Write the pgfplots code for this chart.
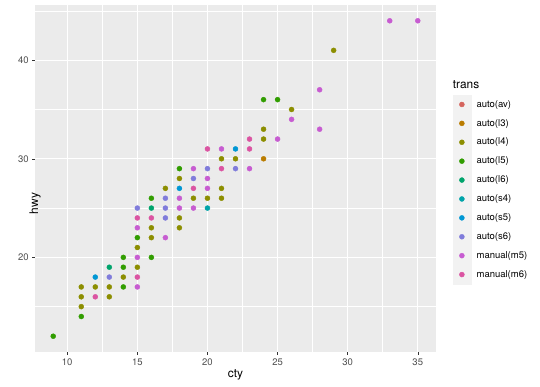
\documentclass[border=0pt]{standalone}
\usepackage{fontspec}
\setmainfont{TeX Gyre Heros}
\usepackage{pgfplots}
\pgfplotsset{compat=1.18}
\definecolor{panelbg}{HTML}{EBEBEB}
\definecolor{legbg}{HTML}{F2F2F2}
\definecolor{ticktxt}{HTML}{4D4D4D}
\definecolor{tickln}{HTML}{333333}
\definecolor{cavx}{HTML}{F8766D}
\definecolor{clax}{HTML}{D89000}
\definecolor{clbx}{HTML}{A3A500}
\definecolor{clcx}{HTML}{39B600}
\definecolor{cldx}{HTML}{00BF7D}
\definecolor{csax}{HTML}{00BFC4}
\definecolor{csbx}{HTML}{00B0F6}
\definecolor{cscx}{HTML}{9590FF}
\definecolor{cmax}{HTML}{E76BF3}
\definecolor{cmbx}{HTML}{FF62BC}
\colorlet{cav}{cavx!86!black}
\colorlet{cla}{clax!86!black}
\colorlet{clb}{clbx!86!black}
\colorlet{clc}{clcx!86!black}
\colorlet{cld}{cldx!86!black}
\colorlet{csa}{csax!86!black}
\colorlet{csb}{csbx!86!black}
\colorlet{csc}{cscx!86!black}
\colorlet{cma}{cmax!86!black}
\colorlet{cmb}{cmbx!86!black}
\begin{document}
\begin{tikzpicture}[x=1pt,y=1pt]
\path[use as bounding box] (0,0) rectangle (540,386);
\begin{axis}[
  at={(35pt,34pt)}, anchor=south west,
  scale only axis, width=401pt, height=347pt,
  xmin=7.7, xmax=36.3, ymin=10.4, ymax=45.6,
  xtick={10,15,20,25,30,35}, ytick={20,30,40},
  minor xtick={12.5,17.5,22.5,27.5,32.5},
  minor ytick={15,25,35,45},
  grid=both,
  major grid style={white, line width=1.1pt},
  minor grid style={white, line width=0.55pt},
  axis background/.style={fill=panelbg},
  axis x line*=bottom, axis y line*=left,
  axis line style={draw=none},
  tick align=outside,
  major tick length=2.9pt, minor tick length=0pt,
  tick style={color=tickln, line width=0.55pt},
  /pgf/number format/assume math mode=true,
  ticklabel style={font=\fontsize{9.5}{11}\selectfont, text=ticktxt},
  xlabel={cty}, ylabel={hwy},
  every axis x label/.style={at={(axis description cs:0.5,0)}, anchor=center, yshift=-23pt, font=\fontsize{11.9}{13}\selectfont},
  every axis y label/.style={at={(axis description cs:0,0.5)}, anchor=center, rotate=90, xshift=-25pt, font=\fontsize{11.9}{13}\selectfont},
  legend style={at={(axis description cs:1.0416,0.7406)}, anchor=north west, draw=none, fill=none,
    inner sep=0pt, outer sep=0pt, row sep=0pt, column sep=5.5pt,
    font=\fontsize{9.5}{11}\selectfont, nodes={inner sep=0pt}},
  legend cell align=left,
  legend image code/.code={\fill[legbg] (0pt,-9.25pt) rectangle (18pt,9.25pt); \draw[#1] plot coordinates {(9pt,0pt)};},
  only marks,
  every axis plot/.append style={mark=*, mark size=2.5pt},
]
\addlegendimage{only marks, mark=*, mark size=2.5pt, color=cav, mark options={fill=cav}}
\addlegendentry{auto(av)}
\addplot[color=cla, mark options={fill=cla}] coordinates {(24,30)};
\addlegendentry{auto(l3)}
\addplot[color=clb, mark options={fill=clb}] coordinates {
(11,17) (11,16) (11,15) (12,17) (13,17) (13,16) (14,18) (15,21) (15,19)
(16,23) (16,22) (17,27) (18,28) (18,24) (18,23) (19,26) (20,26) (21,26)
(21,27) (21,30) (22,30) (24,33) (24,32) (26,35) (29,41)};
\addlegendentry{auto(l4)}
\addplot[color=clc, mark options={fill=clc}] coordinates {
(9,12) (11,14) (14,20) (14,19) (14,17) (15,22) (16,26) (16,20) (18,29) (24,36) (25,36)};
\addlegendentry{auto(l5)}
\addplot[color=cld, mark options={fill=cld}] coordinates {(13,19) (16,25)};
\addlegendentry{auto(l6)}
\addplot[color=csa, mark options={fill=csa}] coordinates {(20,25)};
\addlegendentry{auto(s4)}
\addplot[color=csb, mark options={fill=csb}] coordinates {(12,18) (18,27) (22,31)};
\addlegendentry{auto(s5)}
\addplot[color=csc, mark options={fill=csc}] coordinates {
(13,18) (15,25) (17,26) (17,25) (17,24) (19,28) (20,29) (22,29)};
\addlegendentry{auto(s6)}
\addplot[color=cma, mark options={fill=cma}] coordinates {
(15,23) (15,20) (15,17) (17,22) (18,26) (18,25) (19,29) (19,25) (20,28)
(20,27) (21,31) (23,29) (25,32) (26,34) (28,37) (28,33) (33,44) (35,44)};
\addlegendentry{manual(m5)}
\addplot[color=cmb, mark options={fill=cmb}] coordinates {
(12,16) (15,24) (15,18) (16,24) (19,27) (20,31) (21,29) (23,32) (23,31)};
\addlegendentry{manual(m6)}
\end{axis}
\node[anchor=west, inner sep=0pt, font=\fontsize{11.9}{13}\selectfont] at (452.7,301) {trans};
\end{tikzpicture}
\end{document}
